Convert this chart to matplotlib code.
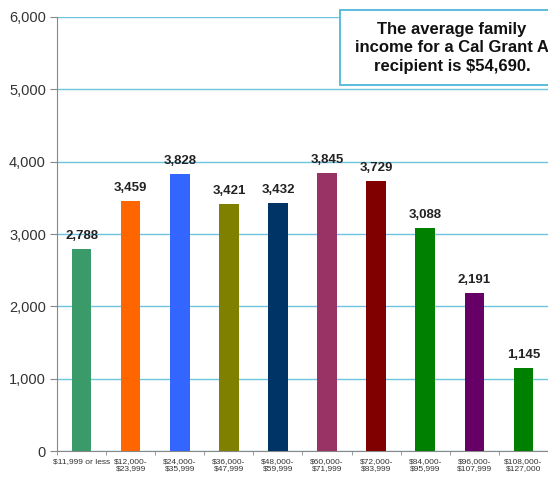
import matplotlib
matplotlib.use("Agg")
import matplotlib.pyplot as plt
from matplotlib.patches import Rectangle
import numpy as np

# income brackets and number of Cal Grant A recipients
categories = ["$11,999 or less", "$12,000-\n$23,999", "$24,000-\n$35,999",
              "$36,000-\n$47,999", "$48,000-\n$59,999", "$60,000-\n$71,999",
              "$72,000-\n$83,999", "$84,000-\n$95,999", "$96,000-\n$107,999",
              "$108,000-\n$127,000"]
values = [2788, 3459, 3828, 3421, 3432, 3845, 3729, 3088, 2191, 1145]
bar_colors = ["#3a9a6a", "#ff6600", "#3366ff", "#808000", "#003366",
              "#993366", "#800000", "#008000", "#660066", "#008000"]
y_ticks = [0, 1000, 2000, 3000, 4000, 5000, 6000]

plt.rcParams['font.family'] = ['Liberation Sans', 'DejaVu Sans']

fig = plt.figure(figsize=(5.48, 4.83), dpi=100)
ax = fig.add_axes([0.104, 0.066, 0.896, 0.899])

x = np.arange(len(categories))
ax.bar(x, values, width=0.4, color=bar_colors, zorder=3)

for xi, v in zip(x, values):
    ax.annotate(f"{v:,}", (xi, v), xytext=(0, 5), textcoords="offset points",
                ha="center", va="bottom", fontsize=9.5, fontweight="bold",
                color="#222222", annotation_clip=False)

ax.set_ylim(0, 6000)
ax.set_xlim(-0.5, 9.24)
ax.set_yticks(y_ticks)
ax.set_yticklabels([f"{t:,}" for t in y_ticks], fontsize=10.5, color="#333333")
ax.yaxis.grid(True, color="#6cc6e0", linewidth=1, zorder=0)
ax.tick_params(axis="y", length=5, pad=3, color="#888888", direction="out")

ax.set_xticks(x)
ax.set_xticklabels(categories, fontsize=6, color="#333333",
                   family=['Liberation Sans Narrow', 'Liberation Sans'], linespacing=1.0)
ax.tick_params(axis="x", length=0, pad=5)
ax.set_xticks(np.arange(len(categories) + 1) - 0.5, minor=True)
ax.tick_params(axis="x", which="minor", length=3, color="#888888", direction="out")

for side in ["top", "right"]:
    ax.spines[side].set_visible(False)
ax.spines["left"].set_color("#888888")
ax.spines["bottom"].set_color("#888888")

# annotation box running off the right edge
fig.patches.append(Rectangle((340 / 548, 1 - 85 / 483), 0.5, 75 / 483,
                             transform=fig.transFigure, facecolor="white",
                             edgecolor="#4db8d8", linewidth=1.3, zorder=5))
fig.text(452 / 548, 1 - 48 / 483, "The average family\nincome for a Cal Grant A\nrecipient is $54,690.",
         ha="center", va="center", fontsize=12, fontweight="bold", color="#111111",
         linespacing=1.3, zorder=6)

fig.savefig("out.png", dpi=100)
